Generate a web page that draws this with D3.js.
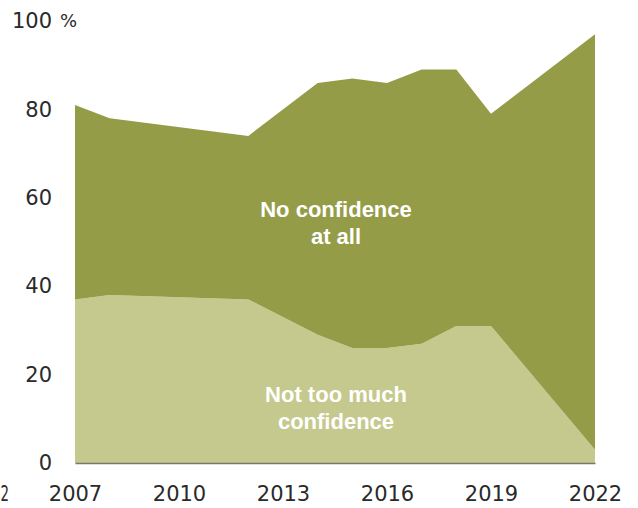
<!DOCTYPE html>
<html>
<head>
<meta charset="utf-8">
<script src="https://cdn.jsdelivr.net/npm/d3@7"></script>
<style>
  html, body { margin: 0; padding: 0; background: #fff; }
  svg { display: block; }
</style>
</head>
<body>
<svg id="chart" width="638" height="508"></svg>
<script>
// ---- data ----
const years = [2007, 2008, 2012, 2014, 2015, 2016, 2017, 2018, 2019, 2022];
const notTooMuch = [37, 38, 37, 29, 26, 26, 27, 31, 31, 3];
const noConfidence = [44, 40, 37, 57, 61, 60, 62, 58, 48, 94];
const seriesKeys = ["notTooMuch", "noConfidence"];
const seriesLabels = [["Not too much", "confidence"], ["No confidence", "at all"]];
const yTicks = [0, 20, 40, 60, 80, 100];
const xTicks = [2007, 2010, 2013, 2016, 2019, 2022];

// ---- layout ----
const svg = d3.select("#chart");
const colors = { notTooMuch: "#c5c98e", noConfidence: "#959c48" };
const x = d3.scaleLinear().domain([2007, 2022]).range([75, 595]);
const y = d3.scaleLinear().domain([0, 100]).range([463, 21]);

const rows = years.map((yr, i) => ({ year: yr, notTooMuch: notTooMuch[i], noConfidence: noConfidence[i] }));
const stacked = d3.stack().keys(seriesKeys)(rows);

const area = d3.area()
  .x(d => x(d.data.year))
  .y0(d => y(d[0]))
  .y1(d => y(d[1]));

svg.append("g").selectAll("path")
  .data(stacked)
  .join("path")
  .attr("d", area)
  .attr("fill", d => colors[d.key]);

// ---- axes ----
const tickFont = "'DejaVu Sans', sans-serif";

const yAxis = svg.append("g")
  .attr("transform", "translate(52,0)")
  .call(d3.axisLeft(y).tickValues(yTicks).tickSize(0).tickPadding(0).tickFormat(d3.format("d")));
yAxis.select(".domain").remove();
yAxis.selectAll("text")
  .attr("font-family", tickFont)
  .attr("font-size", 21)
  .attr("fill", "#2a2a2a");
yAxis.selectAll(".tick").filter(d => d === 100)
  .append("text")
  .attr("x", 8)
  .attr("dy", "0.32em")
  .attr("text-anchor", "start")
  .attr("font-family", tickFont)
  .attr("font-size", 18)
  .attr("fill", "#2a2a2a")
  .text("%");

const xAxis = svg.append("g")
  .attr("transform", "translate(0,463)")
  .call(d3.axisBottom(x).tickValues(xTicks).tickSize(0).tickSizeOuter(0).tickPadding(23).tickFormat(d3.format("d")));
xAxis.select(".domain").attr("stroke", "#77776a").attr("stroke-width", 1.5);
xAxis.selectAll("text")
  .attr("font-family", tickFont)
  .attr("font-size", 21)
  .attr("fill", "#2a2a2a");

// label fragment at the far left of the reference
svg.append("text")
  .attr("x", 0.5)
  .attr("y", 501)
  .attr("text-anchor", "start")
  .attr("font-family", tickFont)
  .attr("font-size", 21)
  .attr("textLength", 8.5)
  .attr("lengthAdjust", "spacingAndGlyphs")
  .attr("fill", "#2a2a2a")
  .text("2");

// ---- in-area labels ----
const labelCx = x.invert(336);
const labelPos = [
  { key: "notTooMuch", baseline: 402 },
  { key: "noConfidence", baseline: 216.5 }
];
labelPos.forEach((p, i) => {
  const t = svg.append("text")
    .attr("text-anchor", "middle")
    .attr("font-family", "'Liberation Sans', Arial, sans-serif")
    .attr("font-weight", "bold")
    .attr("font-size", 22)
    .attr("fill", "#ffffff");
  seriesLabels[i].forEach((line, j) => {
    t.append("tspan")
      .attr("x", x(labelCx))
      .attr("y", p.baseline + j * 27)
      .text(line);
  });
});
</script>
</body>
</html>
